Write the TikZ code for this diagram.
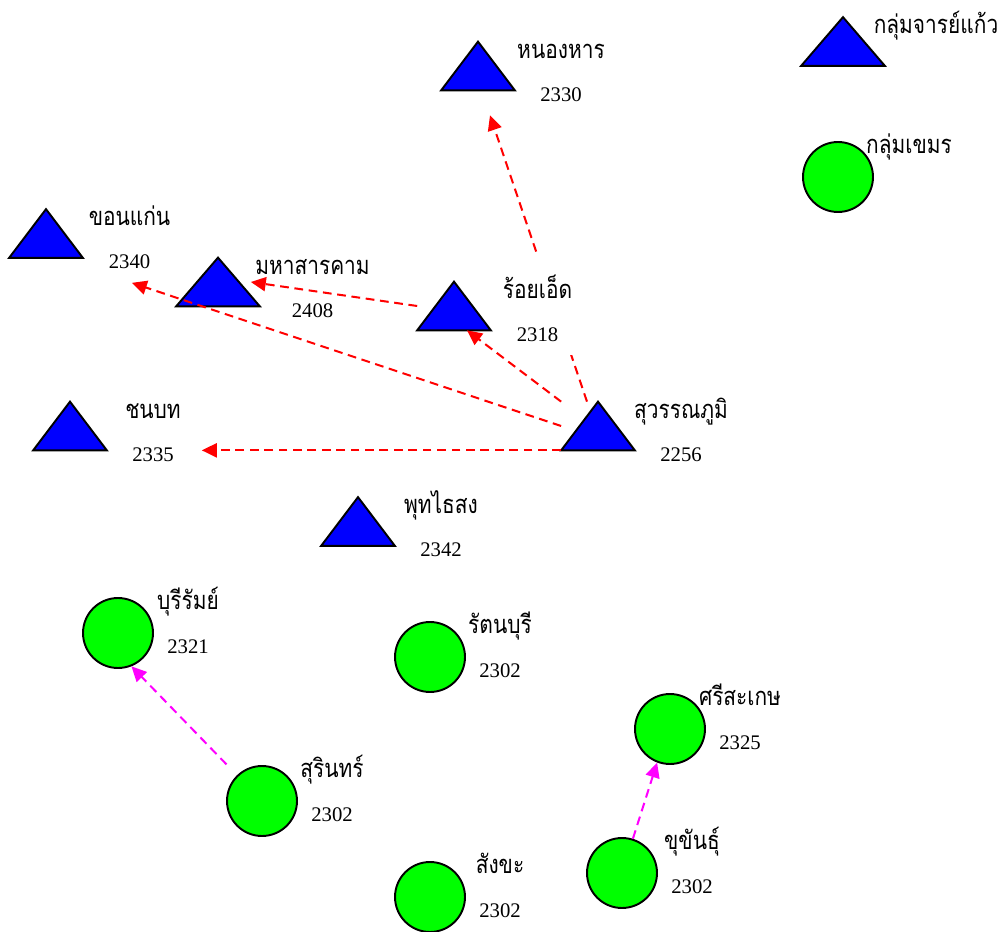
\documentclass[tikz,border=0pt]{standalone}
\usepackage{fontspec}
\setmainfont{Liberation Serif}
\newfontfamily\thaifont[Script=Thai, FakeStretch=0.82]{Loma}
\usetikzlibrary{arrows.meta}
\definecolor{triblue}{HTML}{0000FF}
\definecolor{cirgreen}{HTML}{00FF00}
\definecolor{linkred}{HTML}{FF0000}
\definecolor{linkpink}{HTML}{FF00FF}

\begin{document}
\begin{tikzpicture}[x=0.02cm, y=-0.02cm,
    trinode/.style={rectangle, inner sep=0pt, minimum width=1.46cm, minimum height=0.96cm},
    widetri/.style={trinode, minimum width=1.66cm},
    circnode/.style={circle, draw=black, fill=cirgreen, line width=1.1pt, inner sep=0pt, minimum size=1.4cm},
    namelbl/.style={anchor=base, inner sep=1pt, font=\thaifont\fontsize{14.5}{16}\selectfont},
    numlbl/.style={anchor=base, inner sep=1pt, font=\fontsize{11.8}{14}\selectfont},
    lblbox/.style={rectangle, fill=white, inner sep=0pt},
    link/.style={dash pattern=on 5pt off 3.2pt, line width=1.15pt, -{Triangle[length=8.5pt, width=8pt]}},
    redlink/.style={link, linkred},
    pinklink/.style={link, linkpink}]
    \useasboundingbox (0,0) rectangle (998,932);

    % triangle places
    \node[widetri] (jaan) at (843,41.5) {};
    \node[trinode] (nonghan) at (478,66) {};
    \node[trinode] (khonkaen) at (46,233.5) {};
    \node[widetri] (maha) at (218,282) {};
    \node[trinode] (roiet) at (454,306) {};
    \node[trinode] (suwan) at (598,426) {};
    \node[trinode] (chonabot) at (70,426) {};
    \node[trinode] (phut) at (358,521.5) {};
    \foreach \t in {jaan,nonghan,khonkaen,maha,roiet,suwan,chonabot,phut}
        \filldraw[fill=triblue, draw=black, line width=1.1pt] (\t.south west) -- (\t.north) -- (\t.south east) -- cycle;

    % circle places
    \node[circnode] (khmer) at (838,177) {};
    \node[circnode] (buri) at (118,633) {};
    \node[circnode] (surin) at (262,801) {};
    \node[circnode] (ratana) at (430,657) {};
    \node[circnode] (sangkha) at (430,897) {};
    \node[circnode] (sisaket) at (670,729) {};
    \node[circnode] (khukhan) at (622,873) {};

    % links
    \draw[redlink] ([xshift=-0.22cm]suwan.north) -- ([xshift=0.24cm, yshift=-0.5cm]nonghan.south);
    \draw[redlink] (suwan.north west) -- ([xshift=0.26cm]roiet.south);
    \draw[redlink] (suwan.west) -- ([xshift=0.98cm, yshift=-0.5cm]khonkaen.south east);
    \draw[redlink] (roiet.west) -- ([xshift=-0.18cm]maha.east);
    \draw[redlink] (suwan.south west) -- ([xshift=1.9cm]chonabot.south east);
    \draw[pinklink, shorten <=0.3cm] (surin) -- (buri.-68);
    \draw[pinklink] (khukhan) -- (sisaket.-111);

    % labels
    \node[lblbox, minimum width=1.4cm, minimum height=2cm] (roiet-box) at (540,305) {};
    \node[namelbl] (jaan-name) at (936,33.5) {กลุ่มจารย์แก้ว};
    \node[namelbl] (nonghan-name) at (561,58.5) {หนองหาร};
    \node[numlbl] (nonghan-num) at (561,102) {2330};
    \node[namelbl] (khonkaen-name) at (129.5,225.5) {ขอนแก่น};
    \node[numlbl] (khonkaen-num) at (129.5,269) {2340};
    \node[namelbl] (maha-name) at (312.5,274.5) {มหาสารคาม};
    \node[numlbl] (maha-num) at (312.5,318) {2408};
    \node[namelbl] (roiet-name) at (537.5,298.5) {ร้อยเอ็ด};
    \node[numlbl] (roiet-num) at (537.5,342) {2318};
    \node[namelbl] (suwan-name) at (681,418.5) {สุวรรณภูมิ};
    \node[numlbl] (suwan-num) at (681,462) {2256};
    \node[namelbl] (chonabot-name) at (153,418.5) {ชนบท};
    \node[numlbl] (chonabot-num) at (153,462) {2335};
    \node[namelbl] (phut-name) at (441,513.5) {พุทไธสง};
    \node[numlbl] (phut-num) at (441,557) {2342};
    \node[namelbl] (khmer-name) at (909,153.5) {กลุ่มเขมร};
    \node[namelbl] (buri-name) at (188,609.5) {บุรีรัมย์};
    \node[numlbl] (buri-num) at (188,653) {2321};
    \node[namelbl] (surin-name) at (332,777.5) {สุรินทร์};
    \node[numlbl] (surin-num) at (332,821) {2302};
    \node[namelbl] (ratana-name) at (500,633.5) {รัตนบุรี};
    \node[numlbl] (ratana-num) at (500,677) {2302};
    \node[namelbl] (sangkha-name) at (500,873.5) {สังขะ};
    \node[numlbl] (sangkha-num) at (500,917) {2302};
    \node[namelbl] (sisaket-name) at (740,705.5) {ศรีสะเกษ};
    \node[numlbl] (sisaket-num) at (740,749) {2325};
    \node[namelbl] (khukhan-name) at (692,849.5) {ขุขันธุ์};
    \node[numlbl] (khukhan-num) at (692,893) {2302};
\end{tikzpicture}
\end{document}
